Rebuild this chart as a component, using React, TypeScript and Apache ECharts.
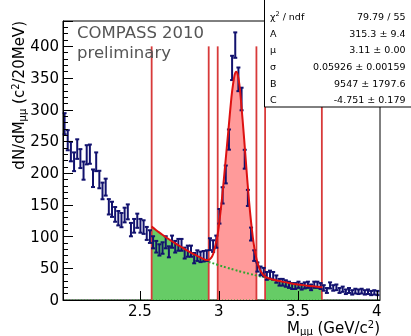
import React, { useEffect, useRef } from "react";
import * as echarts from "echarts";

// ---- axis ranges / ticks ----
const X_MIN = 2.014;
const X_MAX = 4.02;
const X_TICKS = [2.5, 3, 3.5, 4];
const Y_MIN = 0;
const Y_MAX = 440;

// ---- histogram (20 MeV bins) ----
const BIN_START = 2.014;
const BIN_WIDTH = 0.02;
const COUNTS = [
  278, 252, 234, 218, 238, 223, 204, 229, 230, 192, 218, 190, 172, 178, 147, 143, 135, 129, 126, 134,
  139, 111, 117, 125, 117, 115, 105, 100, 91, 84, 79, 82, 91, 76, 92, 84, 87, 87, 74, 77,
  77, 66, 70, 68, 69, 70, 88, 85, 92, 132, 165, 198, 253, 366, 402, 348, 317, 222, 161, 104,
  70, 52, 46, 44, 38, 40, 38, 33, 28, 28, 26, 24, 22, 22, 24, 21, 23, 24, 20, 24,
  24, 22, 19, 15, 23, 19, 20, 15, 17, 13, 15, 12, 14, 13, 14, 12, 13, 11, 12, 11,
];

// ---- fit curve (gauss + exp) ----
const FIT_X = [
  2.575, 2.62, 2.66, 2.7, 2.74, 2.78, 2.82, 2.86, 2.9, 2.92, 2.936, 2.95, 2.96, 2.97, 2.98, 2.993,
  3.0, 3.02, 3.04, 3.06, 3.08, 3.09, 3.1, 3.11, 3.12, 3.13, 3.14, 3.16, 3.18, 3.2, 3.22, 3.238,
  3.26, 3.28, 3.293, 3.33, 3.4, 3.45, 3.5, 3.55, 3.6, 3.652,
];
const FIT_Y = [
  116, 107, 100, 93, 87, 81, 75, 70, 65, 63, 63, 66, 70, 77, 88, 104,
  116, 160, 212, 266, 320, 340, 355, 360, 355, 340, 315, 255, 190, 133, 90, 65,
  48, 40, 37, 33, 29, 26.5, 24.5, 23, 21.5, 20,
];

// ---- background only (dashed, under the peak) ----
const BKG_X = [2.936, 3.0, 3.05, 3.1, 3.15, 3.2, 3.25, 3.293];
const BKG_Y = [60, 55, 51, 47.5, 44, 41, 38, 36];

// ---- cut lines: sideband / signal windows ----
const CUTS = [2.575, 2.936, 2.993, 3.238, 3.293, 3.652];
const CUT_TOP = 400;

// ---- stats box ----
const STAT_LABELS = ["χ{sup|2} / ndf", "A", "μ", "σ", "B", "C"];
const STAT_VALUES = ["79.79 / 55", "315.3 ± 9.4", "3.11 ± 0.00", "0.05926 ± 0.00159", "9547 ± 1797.6", "-4.751 ± 0.179"];

const FONT = "DejaVu Sans";
const NAVY = "#12126e";
const RED = "#dd1111";
const CUT_RED = "#d83a3a";
const GREEN_FILL = "#66cc66";
const PINK_FILL = "#ff9a9a";
const GREEN_LINE = "#2fa52f";

export default function App() {
  const ref = useRef<HTMLDivElement>(null);

  useEffect(() => {
    if (!ref.current) return;
    const chart = echarts.init(ref.current, undefined, { renderer: "svg" });

    const fitPairs = FIT_X.map((x, i) => [x, FIT_Y[i]]);
    const seg = (a: number, b: number) => fitPairs.filter((p) => p[0] >= a - 1e-9 && p[0] <= b + 1e-9);
    const bkgPairs = BKG_X.map((x, i) => [x, BKG_Y[i]]);
    const errData = COUNTS.map((c, i) => {
      const x = BIN_START + BIN_WIDTH * (i + 0.5);
      const e = Math.sqrt(c);
      return [x, c - e, c + e];
    });
    const cutData = CUTS.map((c) => [c, 0, CUT_TOP]);

    const fillSeries = (data: number[][], color: string) => ({
      type: "line",
      data,
      showSymbol: false,
      symbol: "none",
      lineStyle: { width: 0, opacity: 0 },
      areaStyle: { color, opacity: 1 },
      z: 1,
      silent: true,
    });

    const statsGraphics: any[] = [
      {
        type: "rect",
        shape: { x: 264.5, y: -1, width: 150, height: 108 },
        style: { fill: "#ffffff", stroke: "#000", lineWidth: 1 },
        z: 100,
      },
    ];
    const rowY = [16.5, 33.2, 49.8, 66.4, 83, 99.6];
    STAT_LABELS.forEach((l, i) => {
      statsGraphics.push({
        type: "text",
        x: 270,
        y: rowY[i],
        z: 101,
        style: {
          text: l,
          fontFamily: FONT,
          fontSize: 9.5,
          fill: "#000",
          align: "left",
          verticalAlign: "middle",
          lineHeight: 13,
          rich: { sup: { fontSize: 6.5, verticalAlign: "top", lineHeight: 13, fontFamily: FONT } },
        },
      });
      statsGraphics.push({
        type: "text",
        x: 405.5,
        y: rowY[i],
        z: 101,
        style: {
          text: STAT_VALUES[i],
          fontFamily: FONT,
          fontSize: 9.5,
          fill: "#000",
          align: "right",
          verticalAlign: "middle",
        },
      });
    });

    const titleRich = {
      sub: { fontSize: 10, verticalAlign: "bottom", lineHeight: 17, fontFamily: FONT, fill: "#000" },
      sup: { fontSize: 10, verticalAlign: "top", lineHeight: 17, fontFamily: FONT, fill: "#000" },
    };

    chart.setOption({
      animation: false,
      grid: {
        left: 63,
        right: 31,
        top: 21,
        bottom: 36,
        show: true,
        borderColor: "#000",
        borderWidth: 1,
        backgroundColor: "transparent",
      },
      xAxis: {
        type: "value",
        min: X_MIN,
        max: X_MAX,
        z: 10,
        axisLine: { show: true, onZero: false, lineStyle: { color: "#000", width: 1 } },
        axisTick: { show: true, inside: true, length: 9, customValues: X_TICKS, lineStyle: { color: "#000" } },
        axisLabel: {
          customValues: X_TICKS,
          fontFamily: FONT,
          fontSize: 15,
          color: "#000",
          margin: 3,
          formatter: (v: number) => String(v),
        },
        splitLine: { show: false },
      },
      yAxis: [
        {
          type: "value",
          min: Y_MIN,
          max: Y_MAX,
          interval: 50,
          position: "left",
          z: 10,
          axisLine: { show: true, lineStyle: { color: "#000", width: 1 } },
          axisTick: { show: true, inside: true, length: 10, lineStyle: { color: "#000" } },
          axisLabel: {
            fontFamily: FONT,
            fontSize: 15,
            color: "#000",
            margin: 4,
            formatter: (v: number) => (v % 50 === 0 ? String(v) : ""),
          },
          splitLine: { show: false },
        },
        {
          type: "value",
          min: Y_MIN,
          max: Y_MAX,
          interval: 10,
          position: "left",
          offset: 0,
          z: 10,
          axisLine: { show: false },
          axisTick: { show: true, inside: true, length: 5, lineStyle: { color: "#000" } },
          axisLabel: { show: false },
          splitLine: { show: false },
        },
      ],
      series: [
        fillSeries(seg(CUTS[0], CUTS[1]), GREEN_FILL),
        fillSeries(seg(CUTS[2], CUTS[3]), PINK_FILL),
        fillSeries(seg(CUTS[4], CUTS[5]), GREEN_FILL),
        {
          type: "custom",
          data: cutData,
          encode: { x: 0, y: [1, 2] },
          z: 2,
          silent: true,
          renderItem: (params: any, api: any) => {
            const x = api.value(0);
            const p1 = api.coord([x, api.value(2)]);
            const p2 = api.coord([x, api.value(1)]);
            return {
              type: "line",
              shape: { x1: p1[0], y1: p1[1], x2: p2[0], y2: p2[1] },
              style: { stroke: CUT_RED, lineWidth: 1.8 },
            };
          },
        },
        {
          type: "line",
          data: [
            [X_MIN, 0],
            [X_MAX, 0],
          ],
          showSymbol: false,
          symbol: "none",
          lineStyle: { color: GREEN_LINE, width: 1, type: [1, 2] },
          z: 3,
          silent: true,
        },
        {
          type: "line",
          data: bkgPairs,
          showSymbol: false,
          symbol: "none",
          smooth: true,
          lineStyle: { color: GREEN_LINE, width: 2, type: [2, 2] },
          z: 3,
          silent: true,
        },
        {
          type: "custom",
          data: errData,
          encode: { x: 0, y: [1, 2] },
          z: 4,
          silent: true,
          renderItem: (params: any, api: any) => {
            const x = api.value(0);
            const top = api.coord([x, api.value(2)]);
            const bot = api.coord([x, api.value(1)]);
            const cap = 2;
            const st = { stroke: NAVY, lineWidth: 2 };
            return {
              type: "group",
              children: [
                { type: "line", shape: { x1: top[0], y1: top[1], x2: bot[0], y2: bot[1] }, style: st },
                { type: "line", shape: { x1: top[0] - cap, y1: top[1], x2: top[0] + cap, y2: top[1] }, style: st },
                { type: "line", shape: { x1: bot[0] - cap, y1: bot[1], x2: bot[0] + cap, y2: bot[1] }, style: st },
              ],
            };
          },
        },
        {
          type: "line",
          data: fitPairs,
          showSymbol: false,
          symbol: "none",
          smooth: 0.3,
          lineStyle: { color: RED, width: 2 },
          z: 5,
          silent: true,
        },
      ],
      graphic: [
        {
          type: "text",
          x: 77,
          y: 32.5,
          z: 50,
          style: { text: "COMPASS 2010", fontFamily: FONT, fontSize: 16.5, fill: "#555", align: "left", verticalAlign: "middle" },
        },
        {
          type: "text",
          x: 77,
          y: 52,
          z: 50,
          style: { text: "preliminary", fontFamily: FONT, fontSize: 16.5, fill: "#555", align: "left", verticalAlign: "middle" },
        },
        {
          type: "text",
          x: 380,
          y: 328,
          z: 50,
          style: {
            text: "M{sub|μμ} (GeV/c{sup|2})",
            fontFamily: FONT,
            fontSize: 15,
            fill: "#000",
            align: "right",
            verticalAlign: "middle",
            lineHeight: 17,
            rich: titleRich,
          },
        },
        {
          type: "text",
          x: 19,
          y: 21,
          rotation: Math.PI / 2,
          z: 50,
          style: {
            text: "dN/dM{sub|μμ} (c{sup|2}/20MeV)",
            fontFamily: FONT,
            fontSize: 15,
            fill: "#000",
            align: "right",
            verticalAlign: "middle",
            lineHeight: 17,
            rich: titleRich,
          },
        },
        ...statsGraphics,
      ],
    });

    return () => chart.dispose();
  }, []);

  return <div ref={ref} style={{ position: "fixed", left: 0, top: 0, width: 411, height: 336 }} />;
}
